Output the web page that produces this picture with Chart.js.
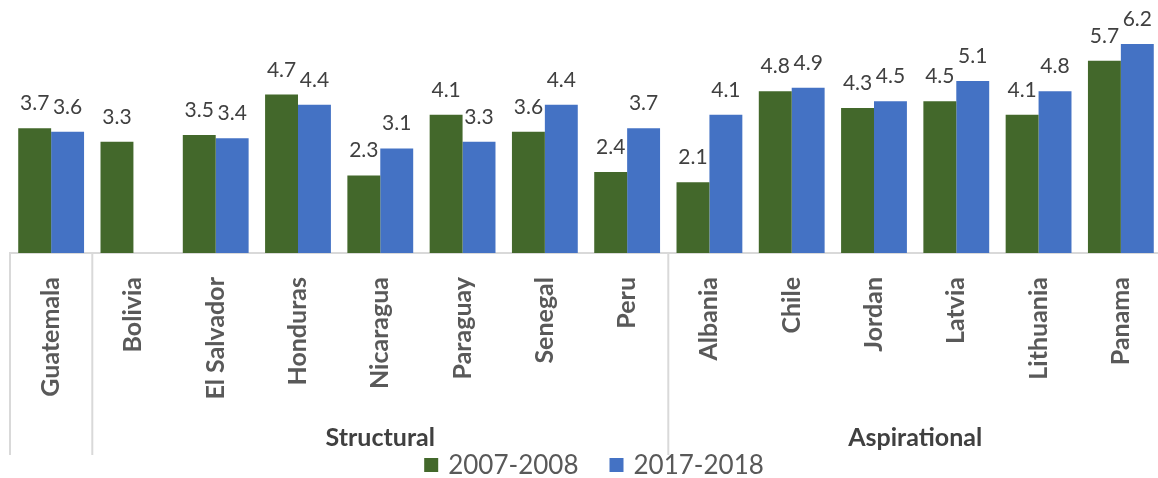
<!DOCTYPE html>
<html>
<head>
<meta charset="utf-8">
<script src="https://cdn.jsdelivr.net/npm/chart.js@4.4.0/dist/chart.umd.min.js"></script>
<style>
  html, body { margin: 0; padding: 0; background: #fff; overflow: hidden; }
  #wrap { width: 1162px; height: 478px; }
</style>
</head>
<body>
<div id="wrap"><canvas id="chart" width="1162" height="478"></canvas></div>
<script>
const countries = ["Guatemala", "Bolivia", "El Salvador", "Honduras", "Nicaragua", "Paraguay", "Senegal",
  "Peru", "Albania", "Chile", "Jordan", "Latvia", "Lithuania", "Panama"];
const values2008 = [3.7, 3.3, 3.5, 4.7, 2.3, 4.1, 3.6, 2.4, 2.1, 4.8, 4.3, 4.5, 4.1, 5.7];
const values2018 = [3.6, null, 3.4, 4.4, 3.1, 3.3, 4.4, 3.7, 4.1, 4.9, 4.5, 5.1, 4.8, 6.2];
const seriesNames = ["2007-2008", "2017-2018"];
// second level of the category axis (first / last country index of each group)
const groupNames = ["Structural", "Aspirational"];
const groupFirst = [1, 8];
const groupLast = [7, 13];

const green = "#43682b";
const blue = "#4472c4";
const lineGrey = "#d9d9d9";
const tickGrey = "#595959";
const labelGrey = "#404040";

Chart.defaults.font.family = "Lato, 'Open Sans', sans-serif";

// numbers above the bars
const barValues = {
  id: "barValues",
  afterDatasetsDraw(chart) {
    const ctx = chart.ctx;
    ctx.save();
    ctx.font = "21px Lato";
    ctx.fillStyle = labelGrey;
    ctx.textAlign = "center";
    ctx.textBaseline = "alphabetic";
    chart.data.datasets.forEach((ds, i) => {
      chart.getDatasetMeta(i).data.forEach((bar, j) => {
        const v = ds.data[j];
        if (v === null || v === undefined) return;
        ctx.fillText(v.toFixed(1), bar.x, bar.y - 18);
      });
    });
    ctx.restore();
  }
};

// group separators + group names under the country labels
const groupAxis = {
  id: "groupAxis",
  afterDraw(chart) {
    const ctx = chart.ctx;
    const xs = chart.scales.x;
    const half = (xs.getPixelForValue(1) - xs.getPixelForValue(0)) / 2;
    const edge = i => xs.getPixelForValue(i) - half;
    ctx.save();
    ctx.strokeStyle = lineGrey;
    ctx.lineWidth = 2;
    const cuts = [0].concat(groupFirst);
    cuts.forEach(i => {
      const x = edge(i);
      ctx.beginPath();
      ctx.moveTo(x, xs.top);
      ctx.lineTo(x, xs.bottom);
      ctx.stroke();
    });
    ctx.font = "bold 25px Lato";
    ctx.fillStyle = labelGrey;
    ctx.textAlign = "center";
    ctx.textBaseline = "middle";
    groupNames.forEach((name, g) => {
      const x = (edge(groupFirst[g]) + edge(groupLast[g] + 1)) / 2;
      ctx.fillText(name, x, xs.bottom - 17);
    });
    ctx.restore();
  }
};

// legend at the bottom
const bottomLegend = {
  id: "bottomLegend",
  afterDraw(chart) {
    const ctx = chart.ctx;
    const box = 14, gap = 10, spacing = 31;
    ctx.save();
    ctx.font = "26px Lato";
    const items = chart.data.datasets.map(ds => ({
      text: ds.label, color: ds.backgroundColor, w: ctx.measureText(ds.label).width
    }));
    const total = items.reduce((s, it) => s + box + gap + it.w, 0) + spacing * (items.length - 1);
    let x = (chart.chartArea.left + chart.chartArea.right) / 2 + 8 - total / 2;
    const y = chart.height - 13;
    ctx.textBaseline = "middle";
    ctx.textAlign = "left";
    items.forEach(it => {
      ctx.fillStyle = it.color;
      ctx.fillRect(x, y - box / 2, box, box);
      ctx.fillStyle = tickGrey;
      ctx.fillText(it.text, x + box + gap, y + 1);
      x += box + gap + it.w + spacing;
    });
    ctx.restore();
  }
};

new Chart(document.getElementById("chart"), {
  type: "bar",
  data: {
    labels: countries,
    datasets: [
      { label: seriesNames[0], data: values2008, backgroundColor: green },
      { label: seriesNames[1], data: values2018, backgroundColor: blue }
    ]
  },
  options: {
    responsive: false,
    animation: false,
    layout: { padding: { left: 10, right: 0, top: 17, bottom: 23 } },
    datasets: { bar: { categoryPercentage: 0.8, barPercentage: 1 } },
    plugins: { legend: { display: false }, tooltip: { enabled: false } },
    scales: {
      x: {
        grid: { display: false, drawTicks: false },
        border: { display: true, color: lineGrey, width: 2 },
        ticks: {
          autoSkip: false, minRotation: 90, maxRotation: 90, padding: 24,
          color: tickGrey, font: { size: 25, weight: "bold" }
        },
        afterFit(scale) {
          scale.height = 202;
          // keep the rotated labels from narrowing the plot
          scale.paddingLeft = 0;
          scale.paddingRight = 0;
        }
      },
      y: { display: false, min: 0, max: 7 }
    }
  },
  plugins: [barValues, groupAxis, bottomLegend]
});
</script>
</body>
</html>
